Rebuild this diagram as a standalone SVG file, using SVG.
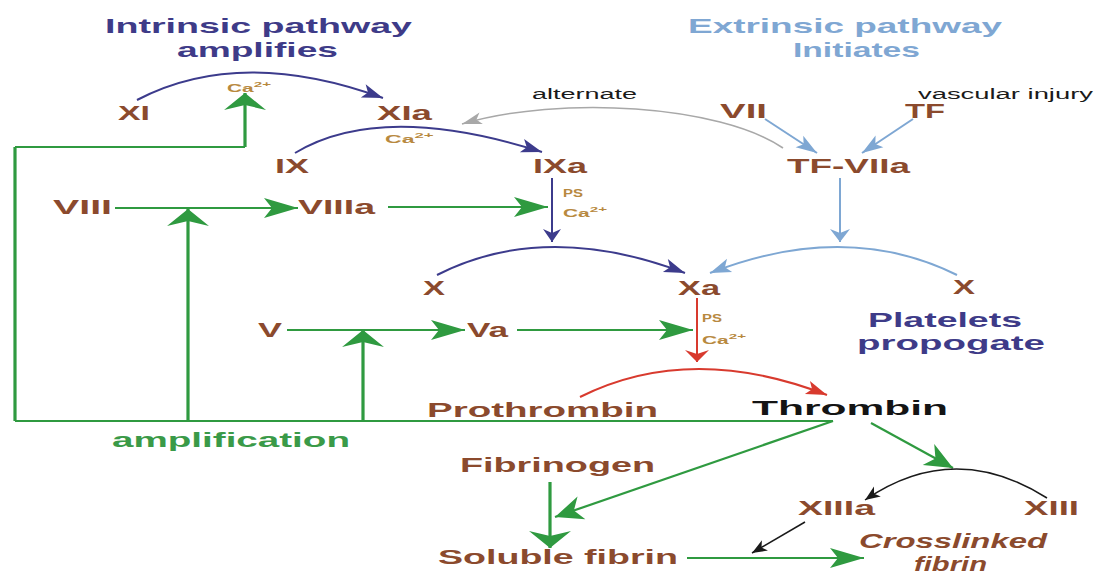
<svg xmlns="http://www.w3.org/2000/svg" width="1096" height="576" viewBox="0 0 1096 576">
<style>
text{font-family:"Liberation Sans","Open Sans",Arial,sans-serif;font-weight:700}
.f{fill:#8b4a2d;font-size:20px}
.ti{fill:#3e3b88;font-size:21px}
.te{fill:#7fa7d3;font-size:21px}
.sm{fill:#1a1a1a;font-size:14px;font-weight:400}
.ca{fill:#b8893f;font-size:11px}
.sup{font-size:8px}
.g{fill:none;stroke:#2f9a40;stroke-width:2.2}
.gV{fill:none;stroke:#2f9a40;stroke-width:3.2}
.p{fill:none;stroke:#3c3b8c;stroke-width:2}
.b{fill:none;stroke:#7ea7d3;stroke-width:2}
.r{fill:none;stroke:#d83a2e;stroke-width:2}
.y{fill:none;stroke:#a8a8a8;stroke-width:1.6}
.k{fill:none;stroke:#1a1a1a;stroke-width:1.5}
</style>
<defs>
<marker id="gh" markerUnits="userSpaceOnUse" orient="auto" style="overflow:visible"><path d="M0,0 L-34,-10 L-26,0 L-34,10 Z" fill="#2f9a40"/></marker>
<marker id="gv" markerUnits="userSpaceOnUse" orient="auto" style="overflow:visible"><path d="M0,0 L-17,-21 L-12,0 L-17,21 Z" fill="#2f9a40"/></marker>
<marker id="gd" markerUnits="userSpaceOnUse" orient="auto" style="overflow:visible"><path d="M0,0 L-28,-12 L-20,0 L-28,12 Z" fill="#2f9a40"/></marker>
<marker id="pa" markerUnits="userSpaceOnUse" orient="auto" style="overflow:visible"><path d="M0,0 L-21,-7 L-16,0 L-21,7 Z" fill="#3c3b8c"/></marker>
<marker id="pv" markerUnits="userSpaceOnUse" orient="auto" style="overflow:visible"><path d="M0,0 L-13,-9 L-9,0 L-13,9 Z" fill="#3c3b8c"/></marker>
<marker id="ba" markerUnits="userSpaceOnUse" orient="auto" style="overflow:visible"><path d="M0,0 L-21,-7 L-16,0 L-21,7 Z" fill="#7ea7d3"/></marker>
<marker id="bv" markerUnits="userSpaceOnUse" orient="auto" style="overflow:visible"><path d="M0,0 L-13,-10 L-9,0 L-13,10 Z" fill="#7ea7d3"/></marker>
<marker id="ra" markerUnits="userSpaceOnUse" orient="auto" style="overflow:visible"><path d="M0,0 L-21,-7 L-16,0 L-21,7 Z" fill="#d83a2e"/></marker>
<marker id="rv" markerUnits="userSpaceOnUse" orient="auto" style="overflow:visible"><path d="M0,0 L-12,-12 L-8,0 L-12,12 Z" fill="#d83a2e"/></marker>
<marker id="ya" markerUnits="userSpaceOnUse" orient="auto" style="overflow:visible"><path d="M0,0 L-20,-6 L-15,0 L-20,6 Z" fill="#a8a8a8"/></marker>
<marker id="ka" markerUnits="userSpaceOnUse" orient="auto" style="overflow:visible"><path d="M0,0 L-15,-6 L-11,0 L-15,6 Z" fill="#1a1a1a"/></marker>
</defs>
<rect width="1096" height="576" fill="#ffffff"/>

<g id="connectors">
<path class="g" d="M833,421 H15"/>
<path class="gV" d="M15,421 V147"/>
<path class="g" d="M15,147 H245"/>
<path class="gV" d="M245,147 V93" marker-end="url(#gv)"/>
<path class="gV" d="M188,421 V209" marker-end="url(#gv)"/>
<path class="gV" d="M363,421 V330" marker-end="url(#gv)"/>
<path class="g" d="M115,208 H298" marker-end="url(#gh)"/>
<path class="g" d="M388,207 H548" marker-end="url(#gh)"/>
<path class="g" d="M287,330 H465" marker-end="url(#gh)"/>
<path class="g" d="M517,330 H693" marker-end="url(#gh)"/>
<path class="g" d="M833,421 L555,517" stroke-width="2.5" marker-end="url(#gd)"/>
<path class="gV" d="M550,482 V548" stroke="#6d8f5e" marker-end="url(#gv)"/>
<path class="g" d="M687,558 H864" marker-end="url(#gh)"/>
<path class="g" d="M871,423 L953,468" stroke-width="2.5" marker-end="url(#gd)"/>

<path class="p" d="M137,100 Q240,46 383,98" marker-end="url(#pa)"/>
<path class="p" d="M295,153 Q381,101 542,152" marker-end="url(#pa)"/>
<path class="p" d="M437,275 Q545,220 685,273" marker-end="url(#pa)"/>
<path class="p" d="M552,178 V242" stroke-width="2.6" marker-end="url(#pv)"/>

<path class="b" d="M765,119 L817,153" marker-end="url(#ba)"/>
<path class="b" d="M913,119 L862,153" marker-end="url(#ba)"/>
<path class="b" d="M840,178 V242" stroke-width="2.4" marker-end="url(#bv)"/>
<path class="b" d="M957,275 Q846,220 710,273" marker-end="url(#ba)"/>

<path class="r" d="M697,298 V362" marker-end="url(#rv)"/>
<path class="r" d="M580,397 Q690,342 827,395" marker-end="url(#ra)"/>

<path class="y" d="M783,148 C720,105 560,95 462,124" marker-end="url(#ya)"/>

<path class="k" d="M1047,498 Q954,439 865,500" marker-end="url(#ka)"/>
<path class="k" d="M805,522 L752,553" marker-end="url(#ka)"/>
</g>

<g id="title-intrinsic">
<text class="ti" x="105" y="33" textLength="307" lengthAdjust="spacingAndGlyphs">Intrinsic pathway</text>
<text class="ti" x="177" y="57" textLength="161" lengthAdjust="spacingAndGlyphs">amplifies</text>
</g>
<g id="title-extrinsic">
<text class="te" x="688" y="33" textLength="314" lengthAdjust="spacingAndGlyphs">Extrinsic pathway</text>
<text class="te" x="793" y="57" textLength="127" lengthAdjust="spacingAndGlyphs">Initiates</text>
</g>

<g id="XI"><text class="f" x="118" y="120" textLength="32" lengthAdjust="spacingAndGlyphs">XI</text></g>
<g id="ca-top"><text class="ca" transform="translate(227,92) scale(1.9,1)">Ca<tspan class="sup" dy="-5">2+</tspan></text></g>
<g id="XIa"><text class="f" x="377" y="120" textLength="55" lengthAdjust="spacingAndGlyphs">XIa</text></g>
<g id="ca-xia"><text class="ca" transform="translate(385,143) scale(2.1,1)">Ca<tspan class="sup" dy="-5">2+</tspan></text></g>
<g id="alternate"><text class="sm" x="532" y="99" textLength="105" lengthAdjust="spacingAndGlyphs">alternate</text></g>
<g id="VII"><text class="f" x="720" y="118" textLength="47" lengthAdjust="spacingAndGlyphs">VII</text></g>
<g id="TF"><text class="f" x="905" y="118" textLength="40" lengthAdjust="spacingAndGlyphs">TF</text></g>
<g id="vascular-injury"><text class="sm" x="918" y="99" textLength="175" lengthAdjust="spacingAndGlyphs">vascular injury</text></g>
<g id="IX"><text class="f" x="275" y="173" textLength="34" lengthAdjust="spacingAndGlyphs">IX</text></g>
<g id="IXa"><text class="f" x="533" y="173" textLength="54" lengthAdjust="spacingAndGlyphs">IXa</text></g>
<g id="TF-VIIa"><text class="f" x="787" y="173" textLength="123" lengthAdjust="spacingAndGlyphs">TF-VIIa</text></g>
<g id="VIII"><text class="f" x="53" y="214" textLength="59" lengthAdjust="spacingAndGlyphs">VIII</text></g>
<g id="VIIIa"><text class="f" x="298" y="214" textLength="77" lengthAdjust="spacingAndGlyphs">VIIIa</text></g>
<g id="ps-ixa">
<text class="ca" x="563" y="197" textLength="20" lengthAdjust="spacingAndGlyphs">PS</text>
<text class="ca" transform="translate(563,217) scale(1.9,1)">Ca<tspan class="sup" dy="-5">2+</tspan></text>
</g>
<g id="X-left"><text class="f" x="423" y="295" textLength="22" lengthAdjust="spacingAndGlyphs">X</text></g>
<g id="Xa"><text class="f" x="678" y="295" textLength="42" lengthAdjust="spacingAndGlyphs">Xa</text></g>
<g id="X-right"><text class="f" x="953" y="294" textLength="22" lengthAdjust="spacingAndGlyphs">X</text></g>
<g id="V"><text class="f" x="258" y="337" textLength="24" lengthAdjust="spacingAndGlyphs">V</text></g>
<g id="Va"><text class="f" x="467" y="337" textLength="41" lengthAdjust="spacingAndGlyphs">Va</text></g>
<g id="ps-xa">
<text class="ca" x="702" y="322" textLength="20" lengthAdjust="spacingAndGlyphs">PS</text>
<text class="ca" transform="translate(702,344) scale(1.9,1)">Ca<tspan class="sup" dy="-5">2+</tspan></text>
</g>
<g id="platelets">
<text class="ti" x="868" y="327" font-size="20" textLength="154" lengthAdjust="spacingAndGlyphs">Platelets</text>
<text class="ti" x="857" y="350" font-size="20" textLength="188" lengthAdjust="spacingAndGlyphs">propogate</text>
</g>
<g id="Prothrombin"><text class="f" x="427" y="417" textLength="231" lengthAdjust="spacingAndGlyphs">Prothrombin</text></g>
<g id="Thrombin"><text x="752" y="415" fill="#141414" font-size="21" textLength="196" lengthAdjust="spacingAndGlyphs">Thrombin</text></g>
<g id="amplification"><text x="112" y="447" fill="#3a9a48" font-size="20" textLength="238" lengthAdjust="spacingAndGlyphs">amplification</text></g>
<g id="Fibrinogen"><text class="f" x="460" y="472" textLength="195" lengthAdjust="spacingAndGlyphs">Fibrinogen</text></g>
<g id="XIIIa"><text class="f" x="798" y="515" textLength="77" lengthAdjust="spacingAndGlyphs">XIIIa</text></g>
<g id="XIII"><text class="f" x="1024" y="515" textLength="55" lengthAdjust="spacingAndGlyphs">XIII</text></g>
<g id="Soluble-fibrin"><text class="f" x="438" y="564" textLength="240" lengthAdjust="spacingAndGlyphs">Soluble fibrin</text></g>
<g id="Crosslinked-fibrin">
<text class="f" x="859" y="548" font-style="italic" textLength="188" lengthAdjust="spacingAndGlyphs">Crosslinked</text>
<text class="f" x="914" y="571" font-style="italic" textLength="73" lengthAdjust="spacingAndGlyphs">fibrin</text>
</g>
</svg>
